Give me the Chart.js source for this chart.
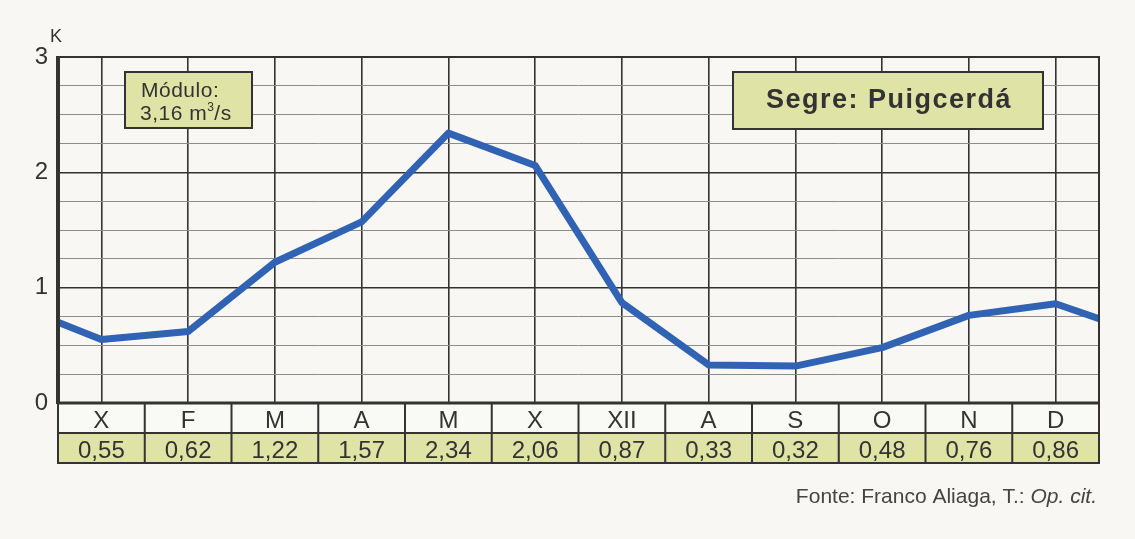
<!DOCTYPE html>
<html>
<head>
<meta charset="utf-8">
<script src="https://cdn.jsdelivr.net/npm/chart.js@4.4.1/dist/chart.umd.min.js"></script>
<style>
    html, body { margin: 0; padding: 0; background: #f8f7f3; }
    #wrap { position: relative; width: 1135px; height: 539px; }
</style>
</head>
<body>
<div id="wrap"><canvas id="flowChart" width="1135" height="539"></canvas></div>
<script>
// monthly discharge coefficients, Segre at Puigcerdá
const months = ['X', 'F', 'M', 'A', 'M', 'X', 'XII', 'A', 'S', 'O', 'N', 'D'];
const flows = [0.55, 0.62, 1.22, 1.57, 2.34, 2.06, 0.87, 0.33, 0.32, 0.48, 0.76, 0.86];
const edgeStart = 0.70;   // where the curve meets the left frame
const edgeEnd = 0.73;     // where the curve meets the right frame
const yGridValues = [0, 0.25, 0.5, 0.75, 1, 1.25, 1.5, 1.75, 2, 2.25, 2.5, 2.75, 3];
const yTickLabels = ['0', '1', '2', '3'];
const stationTitle = 'Segre: Puigcerdá';
const moduleLabel = 'Módulo:';
const moduleValue = '3,16 m';
const sourceText = 'Fonte: Franco Aliaga, T.: ';
const sourceItalic = 'Op. cit.';

const FONT = '"Liberation Sans", Arial, sans-serif';
const INK = '#333';
const GREEN = '#dfe3a6';

const linePoints = [{ x: 0, y: edgeStart }]
    .concat(flows.map((v, i) => ({ x: i + 0.5, y: v })))
    .concat([{ x: 12, y: edgeEnd }]);

const tablePlugin = {
    id: 'tableAndNotes',
    beforeDatasetsDraw(chart) {
        const { ctx, chartArea: a } = chart;
        // boxes inside the plot
        ctx.save();
        ctx.fillStyle = GREEN;
        ctx.strokeStyle = INK;
        ctx.lineWidth = 2;
        ctx.fillRect(a.left + 67, a.top + 15, 127, 56);
        ctx.strokeRect(a.left + 67, a.top + 15, 127, 56);
        ctx.fillRect(a.left + 675, a.top + 15, 310, 57);
        ctx.strokeRect(a.left + 675, a.top + 15, 310, 57);

        ctx.fillStyle = INK;
        ctx.font = '21px ' + FONT;
        ctx.textAlign = 'left';
        ctx.textBaseline = 'alphabetic';
        ctx.letterSpacing = '0.5px';
        ctx.fillText(moduleLabel, a.left + 83, a.top + 40);
        const vx = a.left + 82;
        ctx.fillText(moduleValue, vx, a.top + 63);
        let w = ctx.measureText(moduleValue).width;
        ctx.font = '12px ' + FONT;
        ctx.fillText('3', vx + w, a.top + 54);
        w += ctx.measureText('3').width;
        ctx.font = '21px ' + FONT;
        ctx.fillText('/s', vx + w, a.top + 63);

        ctx.font = 'bold 27px ' + FONT;
        ctx.letterSpacing = '1.5px';
        ctx.textAlign = 'center';
        ctx.textBaseline = 'middle';
        ctx.fillText(stationTitle, a.left + 831, a.top + 44);
        ctx.restore();
    },
    afterDatasetsDraw(chart) {
        const { ctx, chartArea: a, scales: { x } } = chart;
        ctx.save();
        // plot frame
        ctx.strokeStyle = INK;
        ctx.lineWidth = 2;
        ctx.strokeRect(a.left, a.top, a.right - a.left, a.bottom - a.top);
        ctx.lineWidth = 4;
        ctx.beginPath();
        ctx.moveTo(a.left, a.top - 1);
        ctx.lineTo(a.left, a.bottom + 1);
        ctx.stroke();

        // table under the plot
        const rowH = 30;
        const r1 = a.bottom, r2 = a.bottom + rowH, r3 = a.bottom + 2 * rowH;
        ctx.fillStyle = '#f9f9f6';
        ctx.fillRect(a.left, r1, a.right - a.left, rowH);
        ctx.fillStyle = GREEN;
        ctx.fillRect(a.left, r2, a.right - a.left, r3 - r2);
        ctx.strokeStyle = INK;
        ctx.lineWidth = 2;
        ctx.strokeRect(a.left, r1, a.right - a.left, r3 - r1);
        ctx.beginPath();
        ctx.moveTo(a.left, r2);
        ctx.lineTo(a.right, r2);
        for (let i = 1; i < months.length; i++) {
            const px = x.getPixelForValue(i);
            ctx.moveTo(px, r1);
            ctx.lineTo(px, r3);
        }
        ctx.stroke();
        ctx.lineWidth = 3;
        ctx.beginPath();
        ctx.moveTo(a.left, r1);
        ctx.lineTo(a.right, r1);
        ctx.stroke();

        ctx.fillStyle = INK;
        ctx.textAlign = 'center';
        ctx.textBaseline = 'alphabetic';
        ctx.font = '24px ' + FONT;
        months.forEach((m, i) => {
            const cx = x.getPixelForValue(i + 0.5);
            ctx.fillText(m, cx, r1 + 25);
            ctx.fillText(flows[i].toFixed(2).replace('.', ','), cx, r2 + 25);
        });

        // axis unit
        ctx.font = '18px ' + FONT;
        ctx.textAlign = 'left';
        ctx.fillText('K', a.left - 8, a.top - 15);

        // source line
        ctx.font = 'italic 21px ' + FONT;
        const italicW = ctx.measureText(sourceItalic).width;
        ctx.textAlign = 'right';
        ctx.fillStyle = '#444';
        ctx.fillText(sourceItalic, a.right - 2, 503);
        ctx.font = '21px ' + FONT;
        ctx.fillText(sourceText, a.right - 2 - italicW, 503);
        ctx.restore();
    }
};

new Chart(document.getElementById('flowChart').getContext('2d'), {
    type: 'line',
    data: {
        datasets: [{
            data: linePoints,
            borderColor: '#3063b3',
            borderWidth: 7,
            pointRadius: 0,
            tension: 0,
            borderJoinStyle: 'round',
            borderCapStyle: 'butt'
        }]
    },
    options: {
        responsive: false,
        animation: false,
        layout: { padding: { top: 57, right: 36, bottom: 136, left: 0 } },
        plugins: { legend: { display: false }, tooltip: { enabled: false } },
        scales: {
            x: {
                type: 'linear',
                min: 0,
                max: 12,
                afterBuildTicks: s => { s.ticks = months.map((m, i) => ({ value: i + 0.5 })); },
                afterFit: s => { s.height = 0; },
                ticks: { display: false },
                border: { display: false },
                grid: { color: INK, lineWidth: 1.6, drawTicks: false }
            },
            y: {
                min: 0,
                max: 3,
                afterBuildTicks: s => { s.ticks = yGridValues.map(v => ({ value: v })); },
                afterFit: s => { s.width = 58; },
                ticks: {
                    autoSkip: false,
                    padding: 10,
                    color: INK,
                    font: { family: FONT, size: 24 },
                    callback: v => (Number.isInteger(v) ? yTickLabels[v] : '')
                },
                border: { display: false },
                grid: {
                    drawTicks: false,
                    color: c => (Number.isInteger(c.tick.value) ? INK : '#8c8c88'),
                    lineWidth: c => (Number.isInteger(c.tick.value) ? 1.6 : 1)
                }
            }
        }
    },
    plugins: [tablePlugin]
});
</script>
</body>
</html>
